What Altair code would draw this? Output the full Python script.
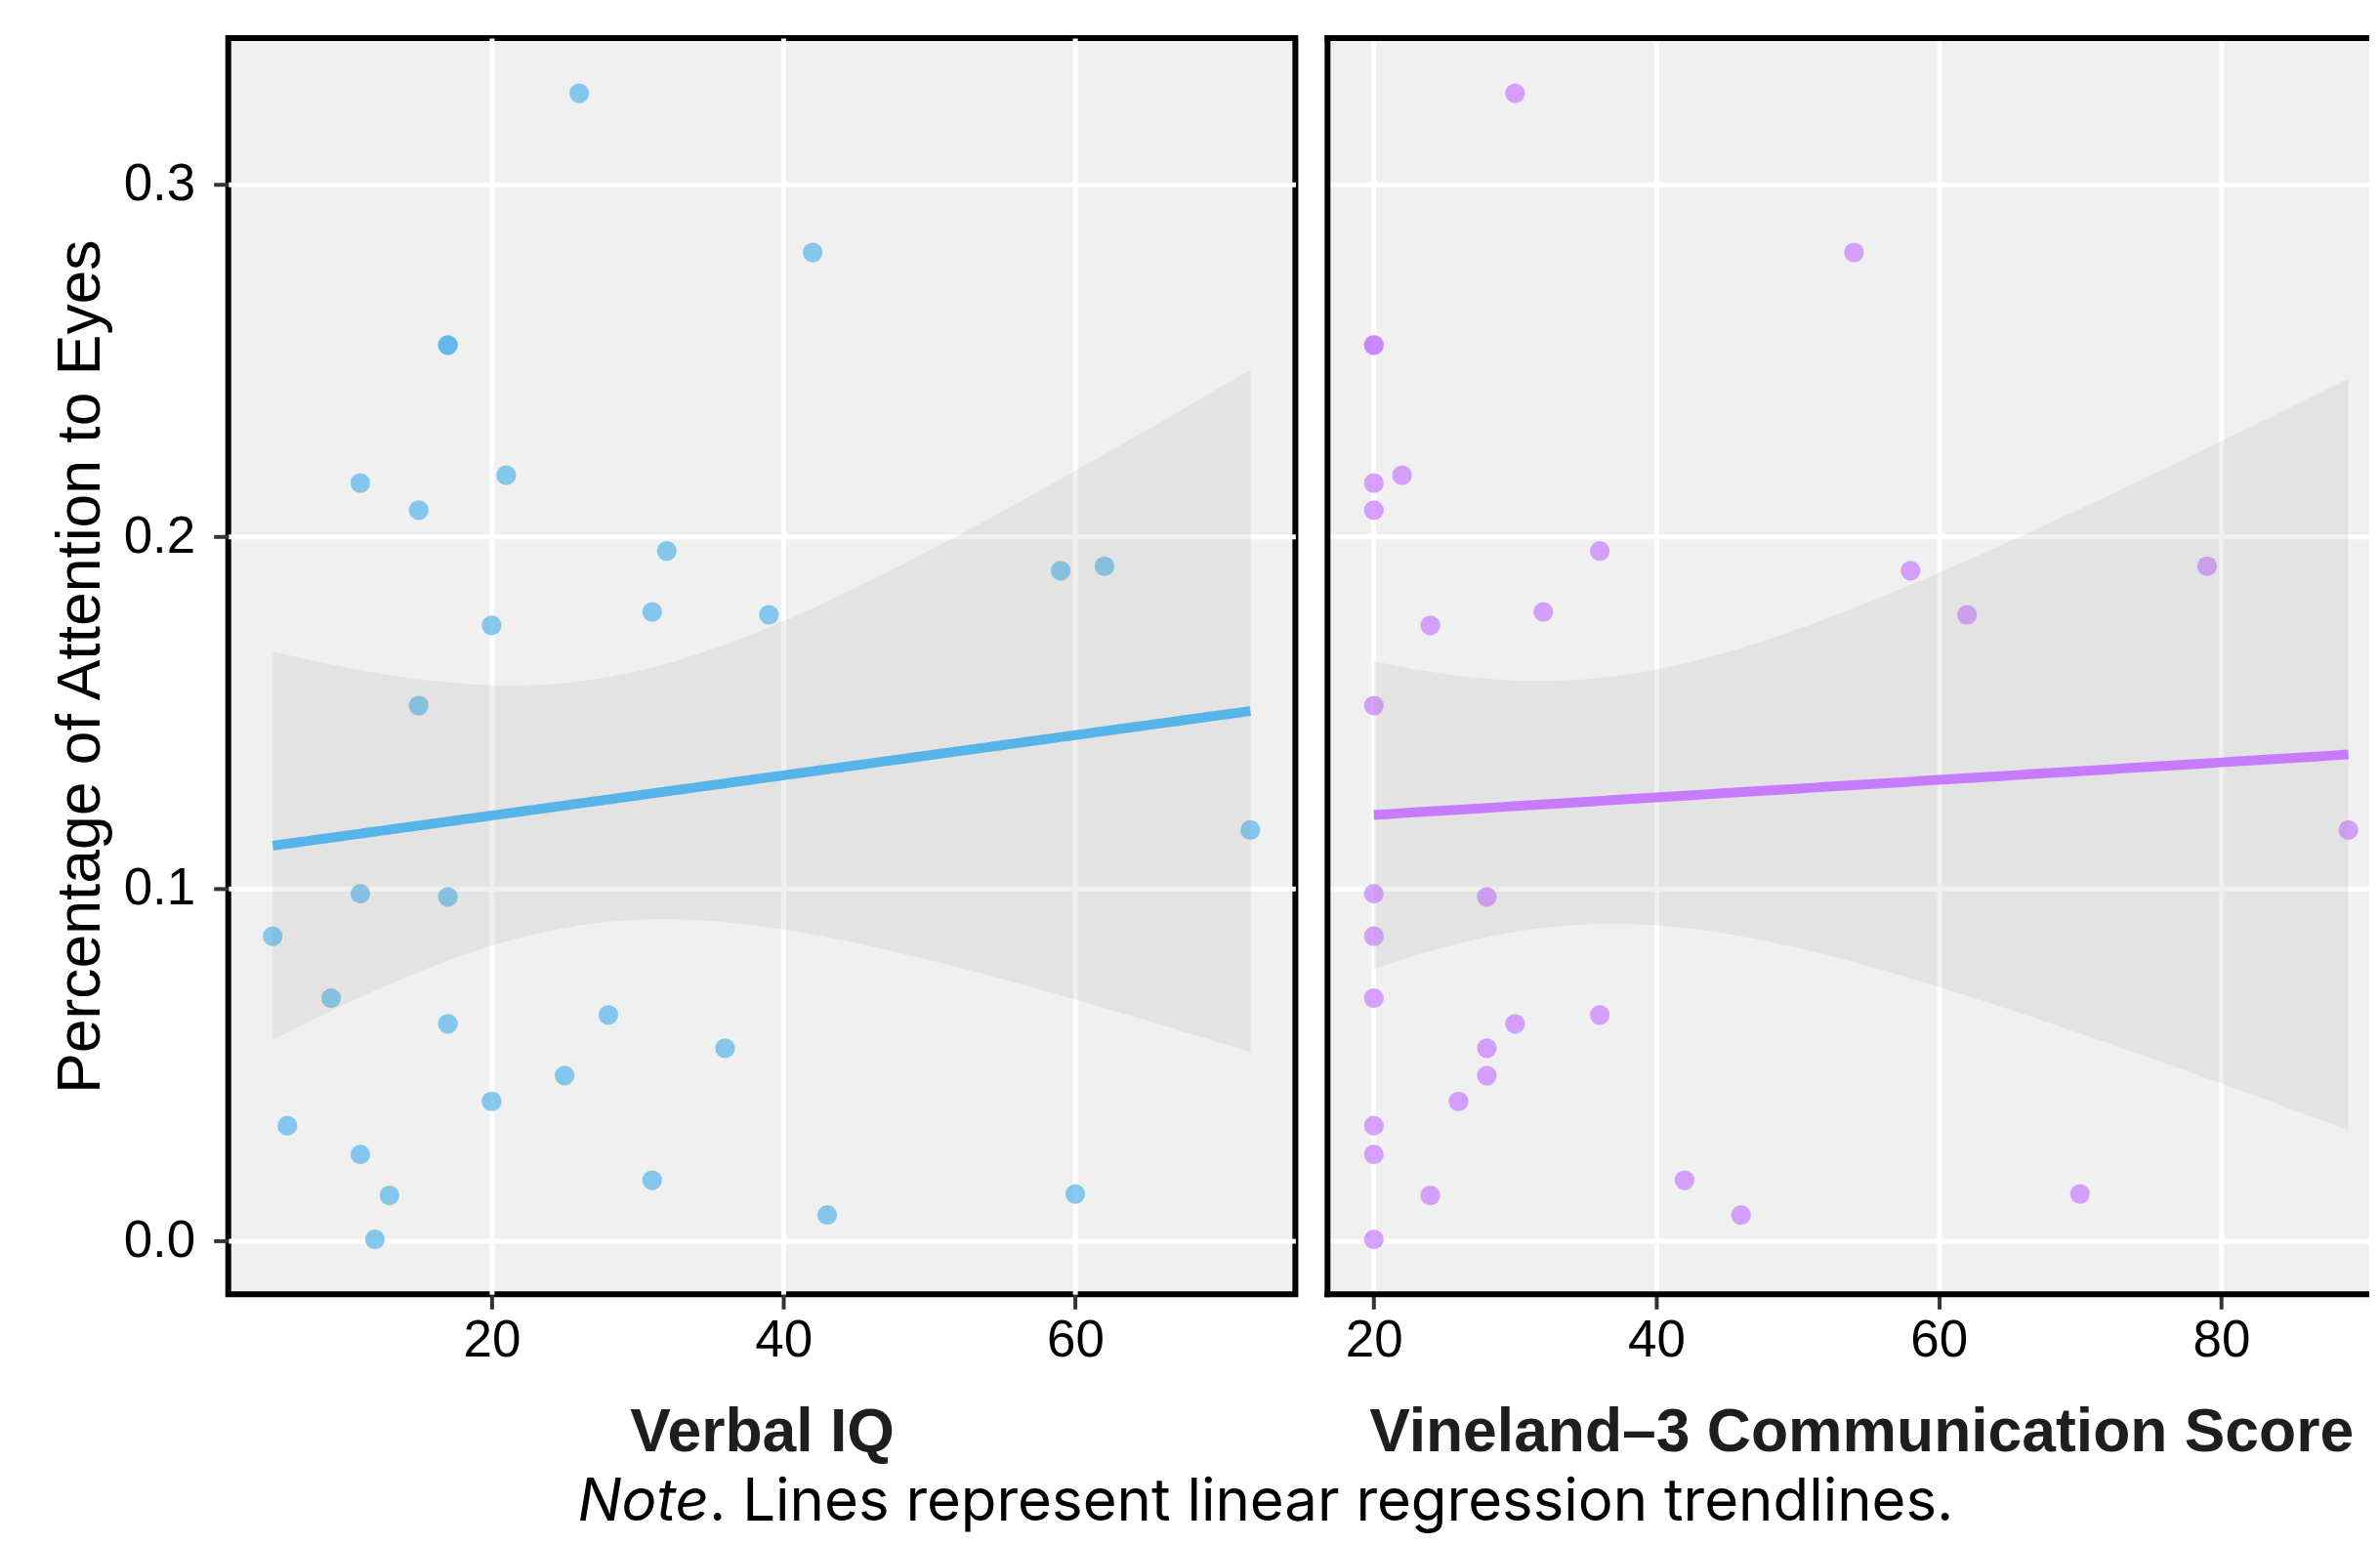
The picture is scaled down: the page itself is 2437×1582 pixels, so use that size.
import altair as alt
import numpy as np
import pandas as pd

# ---------------- data ----------------
attention = [0.3259, 0.2807, 0.2544, 0.2544, 0.2152, 0.2174, 0.2075, 0.1959, 0.1748,
             0.1786, 0.1778, 0.1903, 0.1916, 0.1520, 0.1167, 0.0986, 0.0977, 0.0865,
             0.0689, 0.0616, 0.0641, 0.0547, 0.0469, 0.0396, 0.0327, 0.0245, 0.0172,
             0.0129, 0.0133, 0.0073, 0.0004]
verbal_iq = [26, 42, 17, 17, 11, 21, 15, 32, 20, 31, 39, 59, 62, 15, 72, 11, 17, 5,
             9, 17, 28, 36, 25, 20, 6, 11, 31, 13, 60, 43, 12]
vineland = [30, 54, 20, 20, 20, 22, 20, 36, 24, 32, 62, 58, 79, 20, 89, 20, 28, 20,
            20, 30, 36, 28, 28, 26, 20, 20, 42, 24, 70, 46, 20]

x_title_left = "Verbal IQ"
x_title_right = "Vineland\u20133 Communication Score"
y_title = "Percentage of Attention to Eyes"
note_italic = "Note"
note_rest = ". Lines represent linear regression trendlines."

x_ticks_left = [20, 40, 60]
x_ticks_right = [20, 40, 60, 80]
y_ticks = [0.0, 0.1, 0.2, 0.3]

BLUE = "#56B4E9"
PURPLE = "#C77CFF"
T_CRIT = 2.045  # t(0.975, df=29)

# ---------------- layout ----------------
W_LEFT = 1094
W_RIGHT = 1068
H = 1288
Y_DOMAIN = [-0.0152, 0.3416]
XDOM_LEFT = [1.95, 75.08]
XDOM_RIGHT = [16.72, 90.48]
FONT = "Liberation Sans"


def fit_band(xv, yv, n=120):
    x = np.asarray(xv, float)
    y = np.asarray(yv, float)
    b1, b0 = np.polyfit(x, y, 1)
    resid = y - (b0 + b1 * x)
    s = np.sqrt(np.sum(resid ** 2) / (len(x) - 2))
    xg = np.linspace(x.min(), x.max(), n)
    se = s * np.sqrt(1 / len(x) + (xg - x.mean()) ** 2 / np.sum((x - x.mean()) ** 2))
    fit = b0 + b1 * xg
    return pd.DataFrame({"x": xg, "fit": fit, "lo": fit - T_CRIT * se, "hi": fit + T_CRIT * se})


def panel(xvals, xtitle, color, xdom, xticks, width, left):
    pts = pd.DataFrame({"x": xvals, "y": attention})
    band = fit_band(xvals, attention)
    xs = alt.Scale(domain=xdom, nice=False, zero=False)
    ys = alt.Scale(domain=Y_DOMAIN, nice=False, zero=False)
    if left:
        xax = alt.Axis(values=xticks, title=xtitle, format="d", grid=True)
        yax = alt.Axis(values=y_ticks, format=".1f", title=y_title, grid=True)
    else:
        # title centred as if the (cropped) panel were as wide as the left one
        xax = alt.Axis(values=xticks, title=xtitle, format="d", grid=True, titleX=W_LEFT / 2)
        yax = alt.Axis(values=y_ticks, labels=False, ticks=False, title="", grid=True)

    points = alt.Chart(pts).mark_circle(size=410, color=color, opacity=0.7).encode(
        x=alt.X("x:Q", scale=xs, axis=xax),
        y=alt.Y("y:Q", scale=ys, axis=yax),
    )
    ribbon = alt.Chart(band).mark_area(color="#999999", opacity=0.15).encode(
        x=alt.X("x:Q", scale=xs, axis=xax),
        y=alt.Y("lo:Q", scale=ys, axis=yax),
        y2="hi:Q",
    )
    line = alt.Chart(band).mark_line(color=color, strokeWidth=10).encode(
        x=alt.X("x:Q", scale=xs, axis=xax),
        y=alt.Y("fit:Q", scale=ys, axis=yax),
    )
    layers = [points, ribbon, line]
    if left:
        view = alt.ViewBackground(fill="#F0F0F0", stroke="black", strokeWidth=6)
    else:
        one = pd.DataFrame({"k": [0]})
        frame = alt.Chart(one).mark_rule(color="black", strokeWidth=6)
        layers += [
            frame.encode(x=alt.value(0), y=alt.value(-3), y2=alt.value(H + 3)),
            frame.encode(x=alt.value(-3), x2=alt.value(width), y=alt.value(0)),
            frame.encode(x=alt.value(-3), x2=alt.value(width), y=alt.value(H)),
        ]
        view = alt.ViewBackground(fill="#F0F0F0", strokeWidth=0, strokeOpacity=0)
    return alt.layer(*layers).properties(width=width, height=H, view=view)


left = panel(verbal_iq, x_title_left, BLUE, XDOM_LEFT, x_ticks_left, W_LEFT, True)
right = panel(vineland, x_title_right, PURPLE, XDOM_RIGHT, x_ticks_right, W_RIGHT, False)

panels = alt.hconcat(left, right, spacing=24)

# ---------------- note strip ----------------
HS = 65
XJ = 493
NOTE_Y = 56
note_df = pd.DataFrame({"a": [note_italic], "b": [note_rest]})
note_a = alt.Chart(note_df).mark_text(
    font="Inter", fontSize=60, fontStyle="italic", align="right",
    baseline="alphabetic", color="black",
).encode(text="a:N", x=alt.value(XJ), y=alt.value(NOTE_Y))
note_b = alt.Chart(note_df).mark_text(
    font="Inter", fontSize=60, align="left",
    baseline="alphabetic", color="black",
).encode(text="b:N", x=alt.value(XJ), y=alt.value(NOTE_Y))
strip = alt.layer(note_a, note_b).properties(
    width=2100, height=HS,
    view=alt.ViewBackground(fill="white", strokeWidth=0, strokeOpacity=0),
)

chart = alt.vconcat(panels, strip, spacing=0).properties(
    padding={"left": 40, "top": 24, "right": 0, "bottom": 0},
    background="white",
).configure_axis(
    labelFont=FONT, labelFontSize=53, labelColor="black",
    tickColor="#333333", tickWidth=4, tickSize=15,
    domain=False, gridColor="white", gridWidth=5,
    titleFont=FONT, titleColor="black", titleLimit=3000, labelLimit=500,
).configure_axisX(
    labelPadding=6, titleFontSize=62.5, titleFontWeight="bold", titlePadding=37,
    titleColor="#1E1E1E",
).configure_axisY(
    labelPadding=19, titleFontSize=62.5, titleFontWeight="normal", titlePadding=12,
)

chart.save("out.html", embed_options={"renderer": "svg", "actions": False})
